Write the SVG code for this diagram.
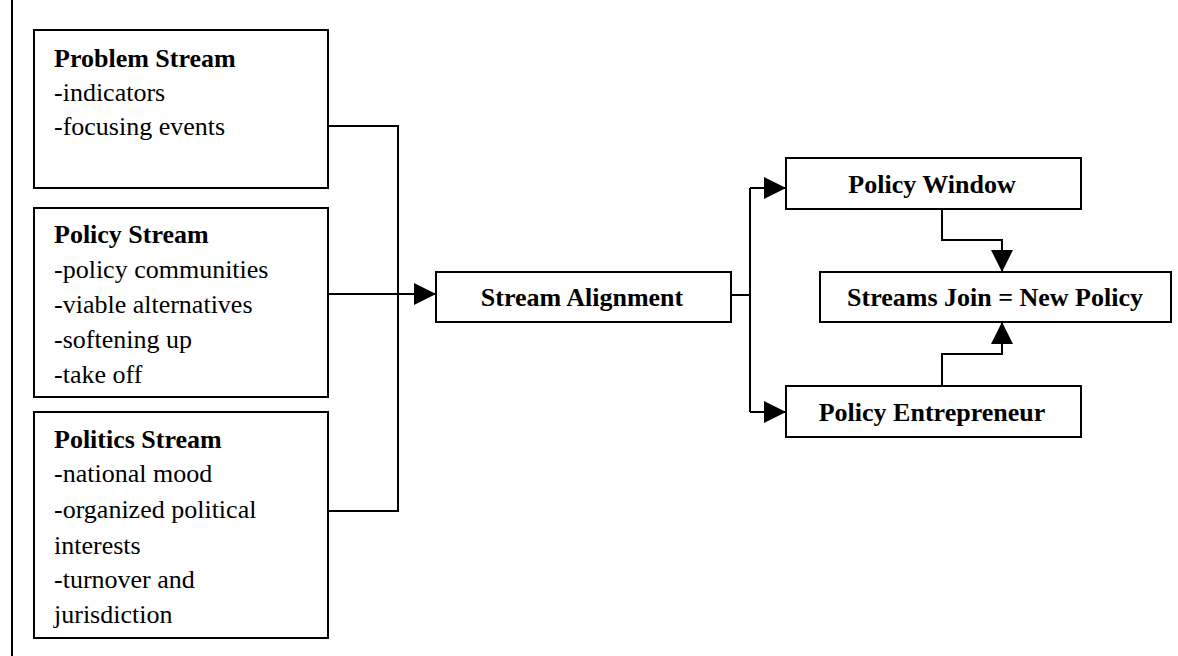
<svg xmlns="http://www.w3.org/2000/svg" width="1178" height="656" viewBox="0 0 1178 656">
  <style>
    .box { fill: #ffffff; stroke: #000000; stroke-width: 2; }
    .wire { fill: none; stroke: #000000; stroke-width: 2; }
    .t { font-family: "Liberation Serif", "Times New Roman", serif; font-size: 26px; fill: #000000; }
    .b { font-weight: bold; }
    .c { text-anchor: middle; }
  </style>
  <defs>
    <marker id="arrow" markerUnits="userSpaceOnUse" markerWidth="22" markerHeight="22" viewBox="0 0 20 20" refX="20" refY="10" orient="auto">
      <path d="M0,0 L20,10 L0,20 Z" fill="#000000"/>
    </marker>
  </defs>

  <rect width="1178" height="656" fill="#ffffff"/>
  <!-- page edge rule -->
  <line x1="12" y1="0" x2="12" y2="656" class="wire"/>

  <g id="connectors">
    <!-- three streams merge into alignment -->
    <polyline class="wire" points="328,126 398,126 398,511 328,511"/>
    <line class="wire" x1="328" y1="294" x2="436" y2="294" marker-end="url(#arrow)"/>
    <!-- alignment splits to window and entrepreneur -->
    <polyline class="wire" points="731,295 750,295"/>
    <polyline class="wire" points="750,188 750,412"/>
    <line class="wire" x1="750" y1="188" x2="786" y2="188" marker-end="url(#arrow)"/>
    <line class="wire" x1="750" y1="412" x2="786" y2="412" marker-end="url(#arrow)"/>
    <!-- window and entrepreneur feed the join -->
    <polyline class="wire" points="942,209 942,240 1002,240 1002,272" marker-end="url(#arrow)"/>
    <polyline class="wire" points="942,386 942,354 1002,354 1002,322" marker-end="url(#arrow)"/>
  </g>

  <g id="problem-stream">
    <rect class="box" x="34" y="30" width="294" height="158"/>
    <text class="t b" x="54" y="67">Problem Stream</text>
    <text class="t" x="54" y="101">-indicators</text>
    <text class="t" x="54" y="135">-focusing events</text>
  </g>

  <g id="policy-stream">
    <rect class="box" x="34" y="208" width="294" height="189"/>
    <text class="t b" x="54" y="243">Policy Stream</text>
    <text class="t" x="54" y="278">-policy communities</text>
    <text class="t" x="54" y="313">-viable alternatives</text>
    <text class="t" x="54" y="348">-softening up</text>
    <text class="t" x="54" y="383">-take off</text>
  </g>

  <g id="politics-stream">
    <rect class="box" x="34" y="412" width="294" height="226"/>
    <text class="t b" x="54" y="448">Politics Stream</text>
    <text class="t" x="54" y="482">-national mood</text>
    <text class="t" x="54" y="518">-organized political</text>
    <text class="t" x="54" y="554">interests</text>
    <text class="t" x="54" y="588">-turnover and</text>
    <text class="t" x="54" y="623">jurisdiction</text>
  </g>

  <g id="stream-alignment">
    <rect class="box" x="436" y="272" width="295" height="50"/>
    <text class="t b c" x="582" y="306">Stream Alignment</text>
  </g>

  <g id="policy-window">
    <rect class="box" x="786" y="158" width="295" height="51"/>
    <text class="t b c" x="932" y="193">Policy Window</text>
  </g>

  <g id="streams-join">
    <rect class="box" x="820" y="272" width="351" height="50"/>
    <text class="t b c" x="995" y="306">Streams Join = New Policy</text>
  </g>

  <g id="policy-entrepreneur">
    <rect class="box" x="786" y="386" width="295" height="51"/>
    <text class="t b c" x="932" y="421">Policy Entrepreneur</text>
  </g>
</svg>
